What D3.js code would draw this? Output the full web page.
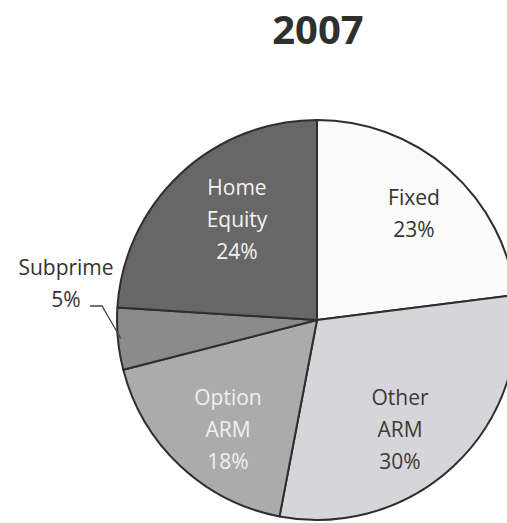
<!DOCTYPE html>
<html><head><meta charset="utf-8">
<script src="https://cdn.jsdelivr.net/npm/d3@7"></script>
<style>body{margin:0;background:#fff;overflow:hidden}</style>
</head><body>
<svg id="c" width="507" height="523"></svg>
<script>
const title = "2007";
const categories = ["Fixed", "Other ARM", "Option ARM", "Subprime", "Home Equity"];
const values = [23, 30, 18, 5, 24];
const labelLines = [["Fixed","23%"],["Other","ARM","30%"],["Option","ARM","18%"],["Subprime","5%"],["Home","Equity","24%"]];
const colors = ["#fbfbfb","#d6d6da","#ababab","#8b8b8b","#676767"];
const textColors = ["#333","#3a3a3a","#f0f0f0","#333","#f2f2f2"];

const svg = d3.select("#c");
const cx = 317, cy = 320, R = 200;
svg.append("text").attr("x", 318).attr("y", 44).attr("text-anchor","middle")
  .attr("font-family","Open Sans, Noto Sans, sans-serif").attr("font-weight","bold")
  .attr("font-size", 40).attr("fill","#2f2f2f").text(title);

const pie = d3.pie().sort(null).value(d => d)(values);
const arc = d3.arc().innerRadius(0).outerRadius(R);
const g = svg.append("g").attr("transform", `translate(${cx},${cy})`);
g.selectAll("path").data(pie).join("path").attr("d", arc)
  .attr("fill", (d,i) => colors[i]).attr("stroke","#2e2e2e").attr("stroke-width",2).attr("stroke-linejoin","round");

const labelPos = [[414, 198],[400, 398],[228, 398],[66, 268],[237, 188]];
const lh = 32;
labelLines.forEach((lines, i) => {
  const t = svg.append("text").attr("text-anchor","middle")
    .attr("font-family","Open Sans, Noto Sans, sans-serif").attr("font-size", 21)
    .attr("fill", textColors[i]);
  lines.forEach((l, j) => {
    t.append("tspan").attr("x", labelPos[i][0]).attr("y", labelPos[i][1] + j*lh + 7).text(l);
  });
});
// leader line for Subprime
const sp = pie[3];
const mid = (sp.startAngle + sp.endAngle)/2;
const ex = cx + Math.sin(mid)*(R-3), ey = cy - Math.cos(mid)*(R-3);
svg.append("path").attr("d", `M90,306 L102,306 L${ex},${ey}`)
  .attr("fill","none").attr("stroke","#444").attr("stroke-width",1.3);
</script>
</body></html>
